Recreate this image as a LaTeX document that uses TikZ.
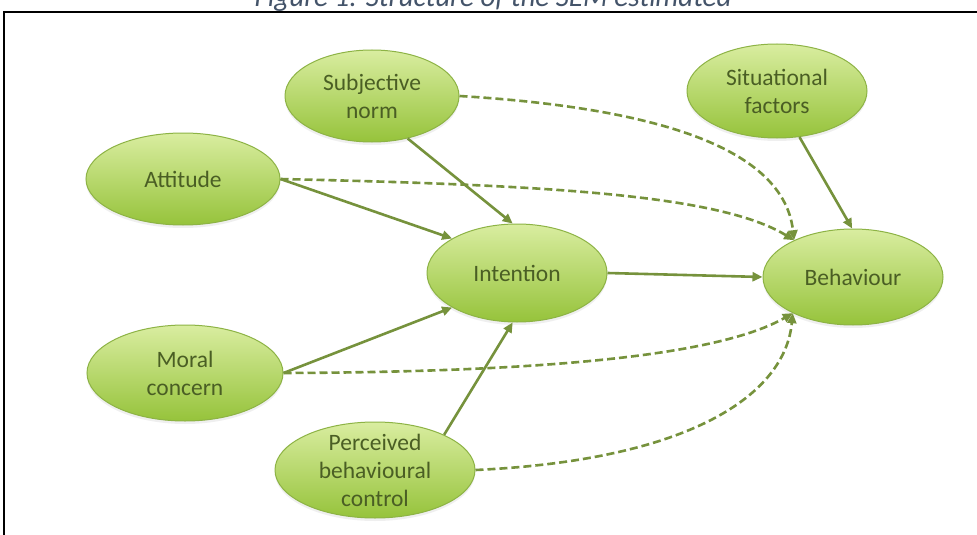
\documentclass[tikz,border=0pt]{standalone}
\usepackage{fontspec}
\setmainfont{Carlito}
\usetikzlibrary{shapes.geometric,arrows.meta,shadows}
\definecolor{edgecol}{HTML}{76923C}
\definecolor{txtcol}{HTML}{4A5E24}
\definecolor{topc}{HTML}{D9EDA0}
\definecolor{botc}{HTML}{96C33B}
\definecolor{bordc}{HTML}{8DB345}
\definecolor{capcol}{HTML}{44546A}
\begin{document}
\begin{tikzpicture}[x=1pt,y=-1pt,
  bub/.style={ellipse, draw=bordc, line width=1pt, top color=topc, bottom color=botc, inner sep=0pt,
    drop shadow={opacity=0.12,shadow xshift=0pt,shadow yshift=-3pt}},
  lab/.style={text=txtcol, font=\fontsize{23.5}{28}\selectfont, align=center, inner sep=0pt},
  link/.style={draw=edgecol, line width=2.6pt, -{Triangle[length=10pt,width=9pt]}},
  dlink/.style={link, dash pattern=on 8pt off 4pt}]
\useasboundingbox (0,0) rectangle (977,535);
\clip (0,0) rectangle (977,535);
\fill[white] (0,0) rectangle (977,535);
% caption (cut off at top)
\node[anchor=base, font=\fontsize{29}{32}\selectfont\itshape, text=capcol, inner sep=0pt] (cap) at (493,7) {Figure 1: Structure of the SEM estimated};
% frame
\draw[line width=1.8pt] (4,540) -- (4,12) -- (980,12);
% bubbles
\node[bub, minimum width=174pt, minimum height=92pt] (sn) at (372,96) {};
\node[bub, minimum width=180pt, minimum height=94pt] (sf) at (777,91) {};
\node[bub, minimum width=194pt, minimum height=92pt] (att) at (183,179) {};
\node[bub, minimum width=180pt, minimum height=98pt] (int) at (517,273) {};
\node[bub, minimum width=180pt, minimum height=96pt] (beh) at (853,277) {};
\node[bub, minimum width=196pt, minimum height=96pt] (mc) at (185,373) {};
\node[bub, minimum width=200pt, minimum height=96pt] (pbc) at (375,470) {};
% labels
\node[lab] (snt) at (sn) {Subjective\\norm};
\node[lab] (sft) at (sf) {Situational\\factors};
\node[lab] (attt) at (att) {Attitude};
\node[lab] (intt) at (int) {Intention};
\node[lab] (beht) at (beh) {Behaviour};
\node[lab] (mct) at (mc) {Moral\\concern};
\node[lab] (pbct) at (pbc) {Perceived\\behavioural\\control};
% solid links
\draw[link] (att.east) -- (int.152);
\draw[link] (sn.310) -- (int.95);
\draw[link] (mc.east) -- (int.208);
\draw[link] (pbc.27) -- (int.265);
\draw[link] (int.east) -- (beh.west);
\draw[link] (sf.296) -- (beh.91);
% dashed links
\draw[dlink] (sn.east) .. controls (690,110) and (785,160) .. (beh.148);
\draw[dlink] (att.east) .. controls (550,185) and (720,195) .. (beh.148);
\draw[dlink] (mc.east) .. controls (550,372) and (720,355) .. (beh.211);
\draw[dlink] (pbc.east) .. controls (690,460) and (785,395) .. (beh.211);
\end{tikzpicture}
\end{document}
